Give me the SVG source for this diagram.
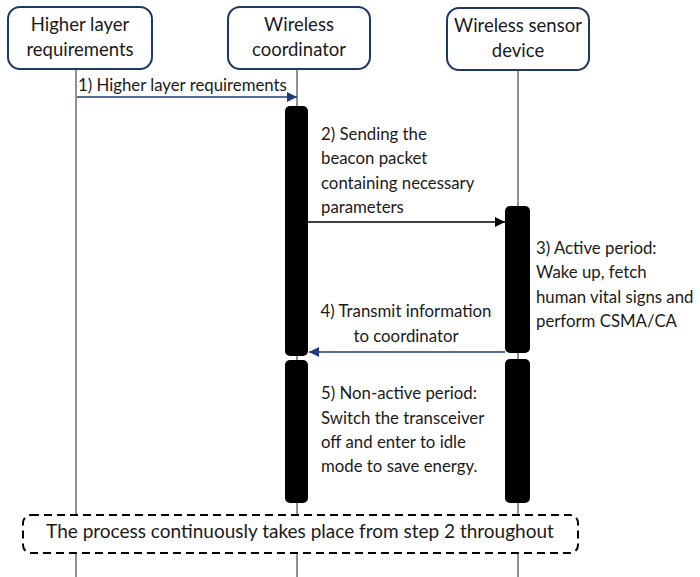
<svg xmlns="http://www.w3.org/2000/svg" width="700" height="577" viewBox="0 0 700 577">
<style>
text{font-family:Lato,"Open Sans","Liberation Sans",sans-serif;fill:#1a1a1a}
.node{fill:#fff;stroke:#1f3864;stroke-width:2}
.nt{font-size:18.5px;text-anchor:middle}
.lt{font-size:16.8px}
.life{stroke:#222;stroke-width:1}
.bar{fill:#000}
.msg{stroke-width:1.3;fill:none}
</style>
<defs>
<marker id="ahNavy" viewBox="0 0 10 10" refX="10" refY="5" markerWidth="10" markerHeight="10" markerUnits="userSpaceOnUse" orient="auto"><path d="M0,0 L10,5 L0,10 z" fill="#1f3d7a"/></marker>
<marker id="ahBlack" viewBox="0 0 10 10" refX="10" refY="5" markerWidth="10" markerHeight="10" markerUnits="userSpaceOnUse" orient="auto"><path d="M0,0 L10,5 L0,10 z" fill="#000"/></marker>
</defs>
<rect width="700" height="577" fill="#fff"/>
<g id="lifelines">
<line class="life" x1="76" y1="69" x2="76" y2="577"/>
<line class="life" x1="297" y1="69" x2="297" y2="577"/>
<line class="life" x1="518" y1="70" x2="518" y2="577"/>
</g>
<g id="node-higher">
<rect class="node" x="8" y="7" width="144" height="62" rx="12"/>
<text class="nt" x="80" y="31">Higher layer</text>
<text class="nt" x="80" y="56">requirements</text>
</g>
<g id="node-coordinator">
<rect class="node" x="228" y="7" width="142" height="62" rx="12"/>
<text class="nt" x="299" y="31">Wireless</text>
<text class="nt" x="299" y="56">coordinator</text>
</g>
<g id="node-sensor">
<rect class="node" x="447" y="8" width="142" height="62" rx="12"/>
<text class="nt" x="518" y="32">Wireless sensor</text>
<text class="nt" x="518" y="57">device</text>
</g>
<g id="activations">
<rect class="bar" x="285" y="106" width="23" height="250" rx="5"/>
<rect class="bar" x="285" y="360" width="23" height="143" rx="5"/>
<rect class="bar" x="505" y="206" width="25" height="147" rx="5"/>
<rect class="bar" x="505" y="359" width="25" height="144" rx="5"/>
</g>
<g id="connectors">
<line class="msg" x1="77" y1="97" x2="297" y2="97" stroke="#1f3d7a" marker-end="url(#ahNavy)"/>
<line class="msg" x1="308" y1="222" x2="505" y2="222" stroke="#000" marker-end="url(#ahBlack)"/>
<line class="msg" x1="505" y1="352" x2="309" y2="352" stroke="#1f3d7a" marker-end="url(#ahNavy)"/>
</g>
<g id="labels">
<text class="lt" x="78" y="91">1) Higher layer requirements</text>
<text class="lt" x="321" y="140">2) Sending the</text>
<text class="lt" x="321" y="164">beacon packet</text>
<text class="lt" x="321" y="189">containing necessary</text>
<text class="lt" x="321" y="213">parameters</text>
<text class="lt" x="536" y="254">3) Active period:</text>
<text class="lt" x="536" y="278">Wake up, fetch</text>
<text class="lt" x="536" y="303">human vital signs and</text>
<text class="lt" x="536" y="327">perform CSMA/CA</text>
<text class="lt" x="406" y="317" text-anchor="middle">4) Transmit information</text>
<text class="lt" x="406" y="342" text-anchor="middle">to coordinator</text>
<text class="lt" x="321" y="399">5) Non-active period:</text>
<text class="lt" x="321" y="424">Switch the transceiver</text>
<text class="lt" x="321" y="448">off and enter to idle</text>
<text class="lt" x="321" y="472">mode to save energy.</text>
</g>
<g id="loop-note">
<rect x="23" y="515" width="555" height="38" rx="8" fill="#fff" stroke="#000" stroke-width="2" stroke-dasharray="8,5"/>
<text x="300" y="538" font-size="19" text-anchor="middle">The process continuously takes place from step 2 throughout</text>
</g>
</svg>
